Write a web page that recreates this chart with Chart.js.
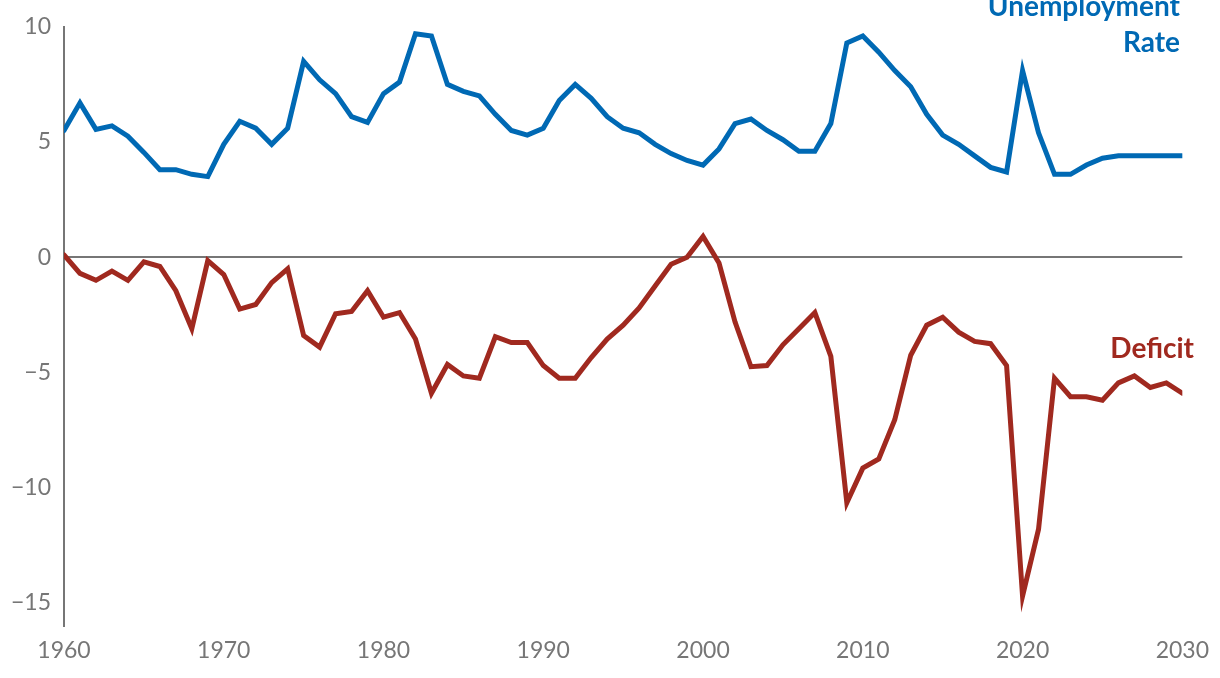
<!DOCTYPE html>
<html>
<head>
<meta charset="utf-8">
<script src="https://cdn.jsdelivr.net/npm/chart.js@4"></script>
<style>
  html, body { margin: 0; padding: 0; background: #fff; }
  #wrap { width: 1220px; height: 678px; }
</style>
</head>
<body>
<div id="wrap"><canvas id="deficitChart"></canvas></div>
<script>
// Years on the x axis
const years = [
  1960, 1961, 1962, 1963, 1964, 1965, 1966, 1967, 1968, 1969,
  1970, 1971, 1972, 1973, 1974, 1975, 1976, 1977, 1978, 1979,
  1980, 1981, 1982, 1983, 1984, 1985, 1986, 1987, 1988, 1989,
  1990, 1991, 1992, 1993, 1994, 1995, 1996, 1997, 1998, 1999,
  2000, 2001, 2002, 2003, 2004, 2005, 2006, 2007, 2008, 2009,
  2010, 2011, 2012, 2013, 2014, 2015, 2016, 2017, 2018, 2019,
  2020, 2021, 2022, 2023, 2024, 2025, 2026, 2027, 2028, 2029,
  2030
];

// Unemployment rate, percent
const unemployment = [
  5.5, 6.7, 5.55, 5.7, 5.25, 4.55, 3.8, 3.8, 3.6, 3.5,
  4.9, 5.9, 5.6, 4.9, 5.6, 8.5, 7.7, 7.1, 6.1, 5.85,
  7.1, 7.6, 9.7, 9.6, 7.5, 7.2, 7.0, 6.2, 5.5, 5.3,
  5.6, 6.8, 7.5, 6.9, 6.1, 5.6, 5.4, 4.9, 4.5, 4.2,
  4.0, 4.7, 5.8, 6.0, 5.5, 5.1, 4.6, 4.6, 5.8, 9.3,
  9.6, 8.9, 8.1, 7.4, 6.2, 5.3, 4.9, 4.4, 3.9, 3.7,
  8.1, 5.4, 3.6, 3.6, 4.0, 4.3, 4.4, 4.4, 4.4, 4.4,
  4.4
];

// Deficit, percent of GDP
const deficit = [
  0.1, -0.7, -1.0, -0.6, -1.0, -0.2, -0.4, -1.45, -3.1, -0.15,
  -0.75, -2.25, -2.05, -1.1, -0.5, -3.4, -3.9, -2.45, -2.35, -1.45,
  -2.6, -2.4, -3.55, -5.9, -4.65, -5.15, -5.25, -3.45, -3.7, -3.7,
  -4.7, -5.25, -5.25, -4.35, -3.55, -2.95, -2.2, -1.25, -0.3, 0.0,
  0.9, -0.25, -2.8, -4.75, -4.7, -3.8, -3.1, -2.4, -4.3, -10.65,
  -9.15, -8.75, -7.05, -4.25, -2.95, -2.6, -3.25, -3.65, -3.75, -4.7,
  -14.7, -11.8, -5.25, -6.05, -6.05, -6.2, -5.45, -5.15, -5.65, -5.45,
  -5.9
];

const yTicks = [-15, -10, -5, 0, 5, 10];
const xTicks = [1960, 1970, 1980, 1990, 2000, 2010, 2020, 2030];

const BLUE = '#0069b4';
const RED = '#a0291f';
const GREY = '#767676';
const FONT = 'Lato, "Open Sans", sans-serif';

function toPoints(values) {
  return values.map((v, i) => ({ x: years[i], y: v }));
}

// Series labels drawn straight on the canvas
const seriesLabels = {
  id: 'seriesLabels',
  afterDatasetsDraw(chart) {
    const ctx = chart.ctx;
    ctx.save();
    ctx.font = 'bold 28px ' + FONT;
    ctx.textAlign = 'right';
    ctx.textBaseline = 'alphabetic';
    ctx.fillStyle = BLUE;
    ctx.fillText('Unemployment', 1180, 16);
    ctx.fillText('Rate', 1180, 52);
    ctx.fillStyle = RED;
    ctx.fillText('Deficit', 1194, 358);
    ctx.restore();
  }
};

const ctx = document.getElementById('deficitChart');
new Chart(ctx, {
  type: 'line',
  data: {
    datasets: [
      {
        label: 'Unemployment Rate',
        data: toPoints(unemployment),
        borderColor: BLUE,
        borderWidth: 5,
        pointRadius: 0,
        tension: 0,
        borderCapStyle: 'round'
      },
      {
        label: 'Deficit',
        data: toPoints(deficit),
        borderColor: RED,
        borderWidth: 5,
        pointRadius: 0,
        tension: 0,
        borderCapStyle: 'round'
      }
    ]
  },
  options: {
    responsive: true,
    maintainAspectRatio: false,
    animation: false,
    layout: { padding: { top: 25, right: 36, left: 0, bottom: 0 } },
    plugins: {
      legend: { display: false },
      tooltip: { enabled: false }
    },
    scales: {
      x: {
        type: 'linear',
        min: 1960,
        max: 2030,
        afterBuildTicks: (scale) => { scale.ticks = xTicks.map(v => ({ value: v })); },
        afterFit: (scale) => { scale.height = 52; },
        grid: { display: false, drawTicks: false },
        border: { display: false },
        ticks: {
          color: GREY,
          font: { family: FONT, size: 23 },
          padding: 11,
          maxRotation: 0,
          callback: (v) => String(v)
        }
      },
      y: {
        type: 'linear',
        min: -16,
        max: 10,
        afterBuildTicks: (scale) => { scale.ticks = yTicks.map(v => ({ value: v })); },
        afterFit: (scale) => { scale.width = 64; },
        grid: {
          drawTicks: false,
          lineWidth: 2,
          color: (c) => (c.tick && c.tick.value === 0 ? GREY : 'rgba(0,0,0,0)')
        },
        border: { display: true, color: GREY, width: 2 },
        ticks: {
          color: GREY,
          font: { family: FONT, size: 23 },
          padding: 13,
          callback: (v) => (v < 0 ? '\u2212' + Math.abs(v) : String(v))
        }
      }
    }
  },
  plugins: [seriesLabels]
});
</script>
</body>
</html>
